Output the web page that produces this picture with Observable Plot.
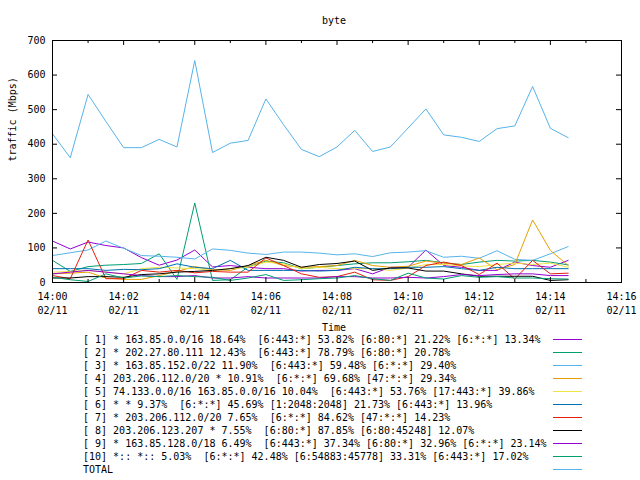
<!DOCTYPE html>
<html><head><meta charset="utf-8">
<script src="https://cdn.jsdelivr.net/npm/d3@7"></script>
<script src="https://cdn.jsdelivr.net/npm/@observablehq/plot@0.6"></script>
<style>
html,body{margin:0;padding:0;background:#fff;}
#wrap{position:relative;width:640px;height:480px;overflow:hidden;font-family:"DejaVu Sans Mono",monospace;font-size:10px;color:#000;background:#fff;}
#title{position:absolute;left:0;width:668px;top:14px;text-align:center;line-height:13px;}
#chart{position:absolute;left:0;top:30px;}
.row{position:absolute;left:83px;height:13px;line-height:13px;white-space:pre;}
.swatch{position:absolute;left:553px;width:29px;height:1px;}
</style></head><body>
<div id="wrap"><div id="title"></div><div id="chart"></div><div id="legend"></div></div>
<script>
const titleText = "byte";
const yLabel = "traffic (Mbps)";
const xLabel = "Time";
const dateLabel = "02/11";
const xDomain = ["14:00", "14:16"];
const xMajor = ["14:00","14:02","14:04","14:06","14:08","14:10","14:12","14:14","14:16"];
const xMinor = ["14:01","14:03","14:05","14:07","14:09","14:11","14:13","14:15"];
const yTicks = [0,100,200,300,400,500,600,700];
const times = ["14:00:00","14:00:30","14:01:00","14:01:30","14:02:00","14:02:30","14:03:00","14:03:30",
  "14:04:00","14:04:30","14:05:00","14:05:30","14:06:00","14:06:30","14:07:00","14:07:30",
  "14:08:00","14:08:30","14:09:00","14:09:30","14:10:00","14:10:30","14:11:00","14:11:30",
  "14:12:00","14:12:30","14:13:00","14:13:30","14:14:00","14:14:30"];

const s1 = [120,97,117,107,100,72,50,65,94,45,49,44,40,40,33,35,35,40,25,44,44,94,49,44,35,35,59,49,44,64];
const s2 = [64,32,46,50,52,55,83,9,230,6,8,45,62,57,40,44,49,54,57,57,60,64,57,52,59,64,62,64,59,51];
const s3 = [78,86,94,120,99,78,76,73,68,97,93,85,81,88,88,85,80,83,75,86,88,92,73,76,70,92,67,64,83,104];
const s4 = [25,27,30,13,9,9,20,32,46,37,35,49,64,49,44,46,49,64,49,44,47,62,56,52,71,37,52,181,93,49];
const s5 = [30,32,35,30,25,40,44,42,40,35,40,44,59,54,40,44,40,40,40,35,42,52,52,48,46,52,56,52,56,44];
const s6 = [40,40,40,35,38,37,40,54,44,40,64,35,35,35,35,33,35,44,40,40,44,44,46,40,35,44,40,40,40,40];
const s7 = [20,11,123,11,11,35,30,35,28,32,30,30,71,49,25,15,17,30,8,6,17,49,59,49,23,56,10,64,25,27];
const s8 = [13,13,17,17,15,23,25,30,32,35,40,49,73,64,44,52,55,62,35,42,42,33,33,25,18,18,18,18,6,8];
const s9 = [25,30,35,30,25,20,17,17,20,13,13,17,13,13,13,13,17,17,13,13,15,13,17,23,20,23,25,25,20,20];
const s10 = [15,8,3,25,13,19,17,20,17,15,6,13,23,6,8,11,13,20,11,6,27,13,10,20,15,17,13,13,11,10];
const total = [430,361,544,466,390,390,414,392,642,376,403,411,531,456,385,364,392,440,379,392,447,502,427,420,408,445,453,567,446,419];

const series = [s1,s2,s3,s4,s5,s6,s7,s8,s9,s10,total];
const colors = ["#9400d3","#009e73","#56b4e9","#e69f00","#f0e442","#0072b2","#e51e10","#000000","#9400d3","#009e73","#56b4e9"];
const legendLabels = [
  "[ 1] * 163.85.0.0/16 18.64%  [6:443:*] 53.82% [6:80:*] 21.22% [6:*:*] 13.34%",
  "[ 2] * 202.27.80.111 12.43%  [6:443:*] 78.79% [6:80:*] 20.78%",
  "[ 3] * 163.85.152.0/22 11.90%  [6:443:*] 59.48% [6:*:*] 29.40%",
  "[ 4] 203.206.112.0/20 * 10.91%  [6:*:*] 69.68% [47:*:*] 29.34%",
  "[ 5] 74.133.0.0/16 163.85.0.0/16 10.04%  [6:443:*] 53.76% [17:443:*] 39.86%",
  "[ 6] * * 9.37%  [6:*:*] 45.69% [1:2048:2048] 21.73% [6:443:*] 13.96%",
  "[ 7] * 203.206.112.0/20 7.65%  [6:*:*] 84.62% [47:*:*] 14.23%",
  "[ 8] 203.206.123.207 * 7.55%  [6:80:*] 87.85% [6:80:45248] 12.07%",
  "[ 9] * 163.85.128.0/18 6.49%  [6:443:*] 37.34% [6:80:*] 32.96% [6:*:*] 23.14%",
  "[10] *:: *:: 5.03%  [6:*:*] 42.48% [6:54883:45778] 33.31% [6:443:*] 17.02%",
  "TOTAL"
];

const parseHMS = d3.utcParse("%H:%M:%S");
const parseHM = d3.utcParse("%H:%M");
const fmtHM = d3.utcFormat("%H:%M");
const tDates = times.map(parseHMS);

const frameH = 242;
const lineMarks = series.map((vals, k) => Plot.line(vals, {
  x: (d, i) => tDates[i], y: d => d, stroke: colors[k], strokeWidth: 1
}));

const chart = Plot.plot({
  width: 640, height: 304,
  marginLeft: 52, marginRight: 19, marginTop: 10, marginBottom: 52,
  style: {fontFamily: "'DejaVu Sans Mono', monospace", fontSize: "10px", background: "white", color: "black", overflow: "visible"},
  x: {type: "utc", domain: xDomain.map(parseHM)},
  y: {domain: [0, 700]},
  marks: [
    ...lineMarks,
    Plot.tickX(xMajor, {x: parseHM, insetTop: frameH - 5, stroke: "black"}),
    Plot.tickX(xMajor, {x: parseHM, insetBottom: frameH - 5, stroke: "black"}),
    Plot.tickX(xMinor, {x: parseHM, insetTop: frameH - 3, stroke: "black"}),
    Plot.tickX(xMinor, {x: parseHM, insetBottom: frameH - 3, stroke: "black"}),
    Plot.tickY(yTicks, {y: d => d, insetRight: 569 - 5, stroke: "black"}),
    Plot.tickY(yTicks, {y: d => d, insetLeft: 569 - 5, stroke: "black"}),
    Plot.frame({stroke: "black"}),
    Plot.axisX(xMajor.map(parseHM), {tickSize: 0, tickPadding: 8, label: null, lineHeight: 1.35,
      tickFormat: d => fmtHM(d) + "\n" + dateLabel}),
    Plot.axisY(yTicks, {tickSize: 0, tickPadding: 7, label: null}),
    Plot.text([yLabel], {frameAnchor: "left", rotate: -90, dx: -40, text: d => d}),
    Plot.text([xLabel], {frameAnchor: "bottom", dy: 48, dx: -3, text: d => d})
  ]
});
document.getElementById("chart").appendChild(chart);
document.getElementById("title").textContent = titleText;

const legend = document.getElementById("legend");
legendLabels.forEach((lab, k) => {
  const cy = 339.3 + 13 * k;
  const row = document.createElement("div");
  row.className = "row";
  row.style.top = (cy - 6.3) + "px";
  row.textContent = lab;
  legend.appendChild(row);
  const sw = document.createElement("div");
  sw.className = "swatch";
  sw.style.top = Math.round(cy - 0.5) + "px";
  sw.style.background = colors[k];
  legend.appendChild(sw);
});
</script>
</body></html>
